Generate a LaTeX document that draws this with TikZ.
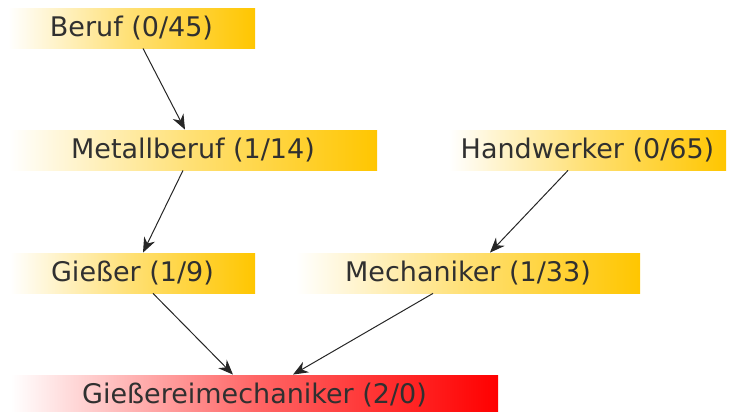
\documentclass[tikz,border=0pt]{standalone}
\usepackage{fontspec}
\setmainfont{DejaVu Sans}
\usetikzlibrary{arrows.meta}
\definecolor{boxgold}{RGB}{255,198,0}
\definecolor{boxred}{RGB}{255,0,0}
\definecolor{boxtext}{RGB}{48,48,48}

\begin{document}
\begin{tikzpicture}[x=0.5pt,y=-0.5pt,
    box/.style={inner sep=0pt,minimum height=20pt,text=boxtext,
        font=\fontsize{13.5}{16}\selectfont,left color=white,right color=boxgold,
        middle color=boxgold!55},
    goal/.style={box,right color=boxred,middle color=boxred!60},
    edge/.style={draw=black!85,line width=0.5pt,-{Stealth[length=7.5pt,width=6pt]}}]
            \useasboundingbox (0,0) rectangle (729,412);
            \node[box,minimum width=123.5pt] (beruf) at (131.5,28) {Beruf (0/45)};
            \node[box,minimum width=184pt] (metall) at (193,150) {Metallberuf (1/14)};
            \node[box,minimum width=138.5pt] (handw) at (587.5,150) {Handwerker (0/65)};
            \node[box,minimum width=122.5pt] (giesser) at (132.5,273) {Gießer (1/9)};
            \node[box,minimum width=172pt] (mech) at (468,273) {Mechaniker (1/33)};
            \node[goal,minimum width=243.5pt] (gmech) at (254.5,395) {Gießereimechaniker (2/0)};
            \draw[edge] ([xshift=5.75pt]beruf.south) -- ([xshift=-4pt]metall.north);
            \draw[edge] ([xshift=-5pt]metall.south) -- ([xshift=5.25pt]giesser.north);
            \draw[edge] ([xshift=-9.75pt]handw.south) -- ([xshift=11pt]mech.north);
            \draw[edge] ([xshift=10.25pt]giesser.south) -- ([xshift=-10.75pt]gmech.north);
            \draw[edge] ([xshift=-17.5pt]mech.south) -- ([xshift=19.25pt]gmech.north);
        \end{tikzpicture}
\end{document}
